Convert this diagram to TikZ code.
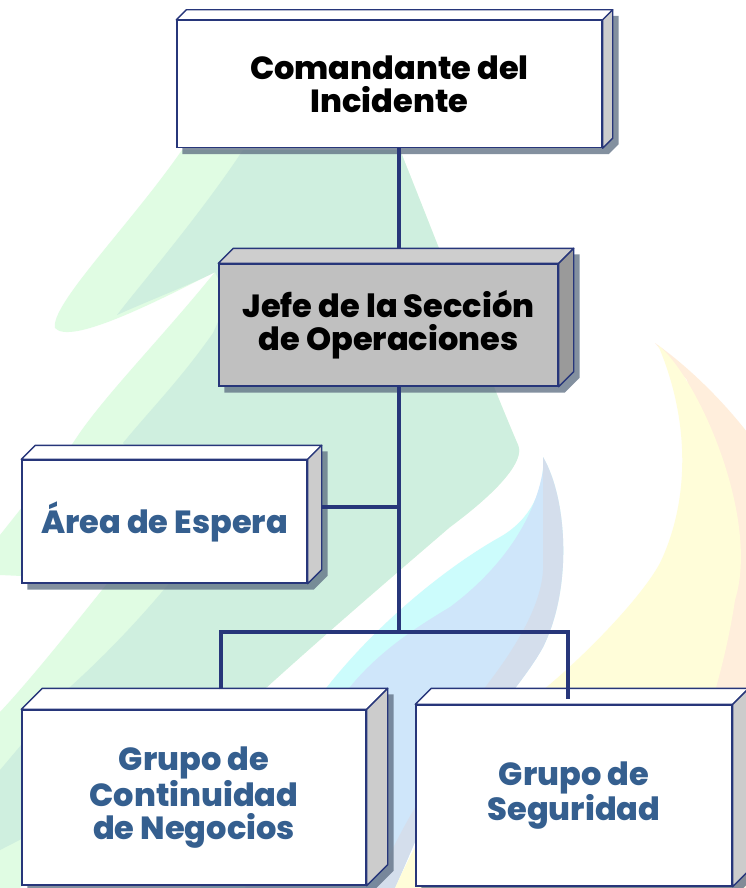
\documentclass[tikz,border=0pt]{standalone}
\usepackage{fontspec}
\setmainfont{Poppins}[BoldFont={Poppins ExtraBold}]
\usetikzlibrary{calc}
\pgfdeclarelayer{bgart}
\pgfdeclarelayer{shadl}
\pgfsetlayers{bgart,shadl,main}
\definecolor{navy}{HTML}{27367A}
\definecolor{txtblue}{HTML}{355F8F}
\definecolor{shadowc}{HTML}{5A6B80}
\definecolor{sidegray}{HTML}{CCCCCC}
\definecolor{jfront}{HTML}{C0C0C0}
\definecolor{jtop}{HTML}{CECECE}
\definecolor{jside}{HTML}{9A9A9A}
\definecolor{lgreen}{HTML}{E0FCE3}
\definecolor{mint}{HTML}{CFEFDF}
\definecolor{cyanbg}{HTML}{CCFCFC}
\definecolor{lblue}{HTML}{CFE6FA}
\definecolor{gblue}{HTML}{D4DEEC}
\definecolor{ylw}{HTML}{FFFDD9}
\definecolor{orng}{HTML}{FFEEDC}
\tikzset{
  boxfront/.style={draw=navy, line width=1.4pt, inner sep=0pt, align=center,
    font=\bfseries\fontsize{32}{33}\selectfont},
  faceline/.style={draw=navy, line width=1.4pt, line join=round},
  conn/.style={draw=navy, line width=4pt},
}
% #1 node name, #2 depth, #3 top colour, #4 side colour
\newcommand{\cubefaces}[4]{%
  \begin{pgfonlayer}{shadl}
    \fill[shadowc, opacity=0.75] ($(#1.south west)+(6,6)$) -- ($(#1.north west)+(6,6)$)
      -- ($(#1.north west)+(#2+6,-#2+6)$) -- ($(#1.north east)+(#2+6,-#2+6)$)
      -- ($(#1.south east)+(#2+6,-#2+6)$) -- ($(#1.south east)+(6,6)$) -- cycle;
  \end{pgfonlayer}
  \filldraw[faceline, fill=#3] (#1.north west) -- ++(#2,-#2) -- ($(#1.north east)+(#2,-#2)$) -- (#1.north east) -- cycle;
  \filldraw[faceline, fill=#4] (#1.north east) -- ++(#2,-#2) -- ($(#1.south east)+(#2,-#2)$) -- (#1.south east) -- cycle;
}
\begin{document}
\begin{tikzpicture}[x=1pt, y=-1pt]
\useasboundingbox (0,0) rectangle (746,888);
\begin{pgfonlayer}{bgart}
  \fill[white] (0,0) rectangle (746,888);
  % green tree
  \fill[lgreen] (182,150) .. controls (130,225) and (50,305) .. (55,328)
    .. controls (70,345) and (150,305) .. (215,272)
    .. controls (160,340) and (100,400) .. (73,443)
    -- (0,535) -- (0,575) -- (110,580)
    .. controls (70,630) and (30,680) .. (0,712)
    -- (0,888) -- (20,888)
    .. controls (100,800) and (200,730) .. (267,687)
    .. controls (330,630) and (400,570) .. (450,527)
    .. controls (500,490) and (525,460) .. (518,445)
    .. controls (490,380) and (440,250) .. (400,150) -- cycle;
  \fill[mint] (243,150) .. controls (200,215) and (140,285) .. (117,315)
    .. controls (150,300) and (190,285) .. (215,272)
    -- (228,300) -- (213,333)
    .. controls (180,380) and (150,410) .. (123,443)
    -- (200,520) -- (180,570)
    .. controls (140,620) and (100,660) .. (70,687)
    -- (0,770) -- (0,850)
    .. controls (100,800) and (200,730) .. (267,687)
    .. controls (330,630) and (400,570) .. (450,527)
    .. controls (500,490) and (525,460) .. (518,445)
    .. controls (490,380) and (440,250) .. (400,150) -- cycle;
  % blue swoosh
  \fill[cyanbg] (543,457) .. controls (568,500) and (572,590) .. (543,647)
    .. controls (520,690) and (450,760) .. (420,830) -- (395,888) -- (200,888)
    .. controls (240,800) and (280,740) .. (327,687)
    .. controls (380,620) and (450,565) .. (500,537)
    .. controls (530,520) and (545,490) .. (543,457) -- cycle;
  \fill[lblue] (543,470) .. controls (560,520) and (565,600) .. (543,647)
    .. controls (520,690) and (450,760) .. (420,830) -- (395,888) -- (245,888)
    .. controls (280,800) and (310,730) .. (350,687)
    .. controls (380,650) and (420,625) .. (450,607)
    .. controls (500,570) and (535,520) .. (543,470) -- cycle;
  \fill[gblue] (543,457) .. controls (568,500) and (572,590) .. (543,647)
    .. controls (520,690) and (450,760) .. (420,830) -- (395,888) -- (375,888)
    .. controls (410,800) and (470,730) .. (483,690)
    .. controls (530,630) and (545,590) .. (543,560)
    -- (543,457) -- cycle;
  % yellow / orange crescents
  \fill[orng] (655,343) .. controls (700,375) and (740,420) .. (760,450)
    -- (760,888) -- (640,888)
    .. controls (690,800) and (750,650) .. (687,380) -- cycle;
  \fill[ylw] (658,345) .. controls (700,380) and (760,520) .. (735,600)
    .. controls (720,700) and (680,800) .. (640,888) -- (395,888)
    .. controls (430,810) and (480,740) .. (543,690)
    .. controls (580,660) and (640,600) .. (660,563)
    .. controls (690,500) and (690,420) .. (658,345) -- cycle;
\end{pgfonlayer}

% boxes
\node[boxfront, fill=white, minimum width=425, minimum height=127] (com) at (389.5,84) {Comandante del\\Incidente};
\cubefaces{com}{10}{white}{sidegray}

\node[boxfront, fill=jfront, minimum width=339, minimum height=122] (jefe) at (388.5,325) {Jefe de la Sección\\de Operaciones};
\cubefaces{jefe}{15}{jtop}{jside}

\node[boxfront, fill=white, text=txtblue, minimum width=285, minimum height=123] (area) at (164.5,521.5) {Área de Espera};
\cubefaces{area}{14}{white}{sidegray}

\node[boxfront, fill=white, text=txtblue, minimum width=344, minimum height=175] (gc) at (194,797.5) {Grupo de\\Continuidad\\de Negocios};
\cubefaces{gc}{21}{white}{sidegray}

\node[boxfront, fill=white, text=txtblue, minimum width=316, minimum height=181] (gs) at (574,795.5) {Grupo de\\Seguridad};
\cubefaces{gs}{16}{white}{sidegray}

% connectors
\coordinate (tk) at (399,0);
\coordinate (jn) at (399,632);
\coordinate (hl) at (221,632);
\coordinate (hr) at (568,632);
\draw[conn] (com.south -| tk) -- ($(jefe.north -| tk)+(0,-15)$);
\draw[conn] (jefe.south -| tk) -- (jn);
\draw[conn] ($(area.east)+(14,-14.5)$) -- ($(area.east -| tk)+(0,-14.5)$);
\draw[conn] ($(gc.north)+(27,-20)$) -- (hl) -- (hr) -- ($(gs.north)+(-6,-5)$);
\end{tikzpicture}
\end{document}
